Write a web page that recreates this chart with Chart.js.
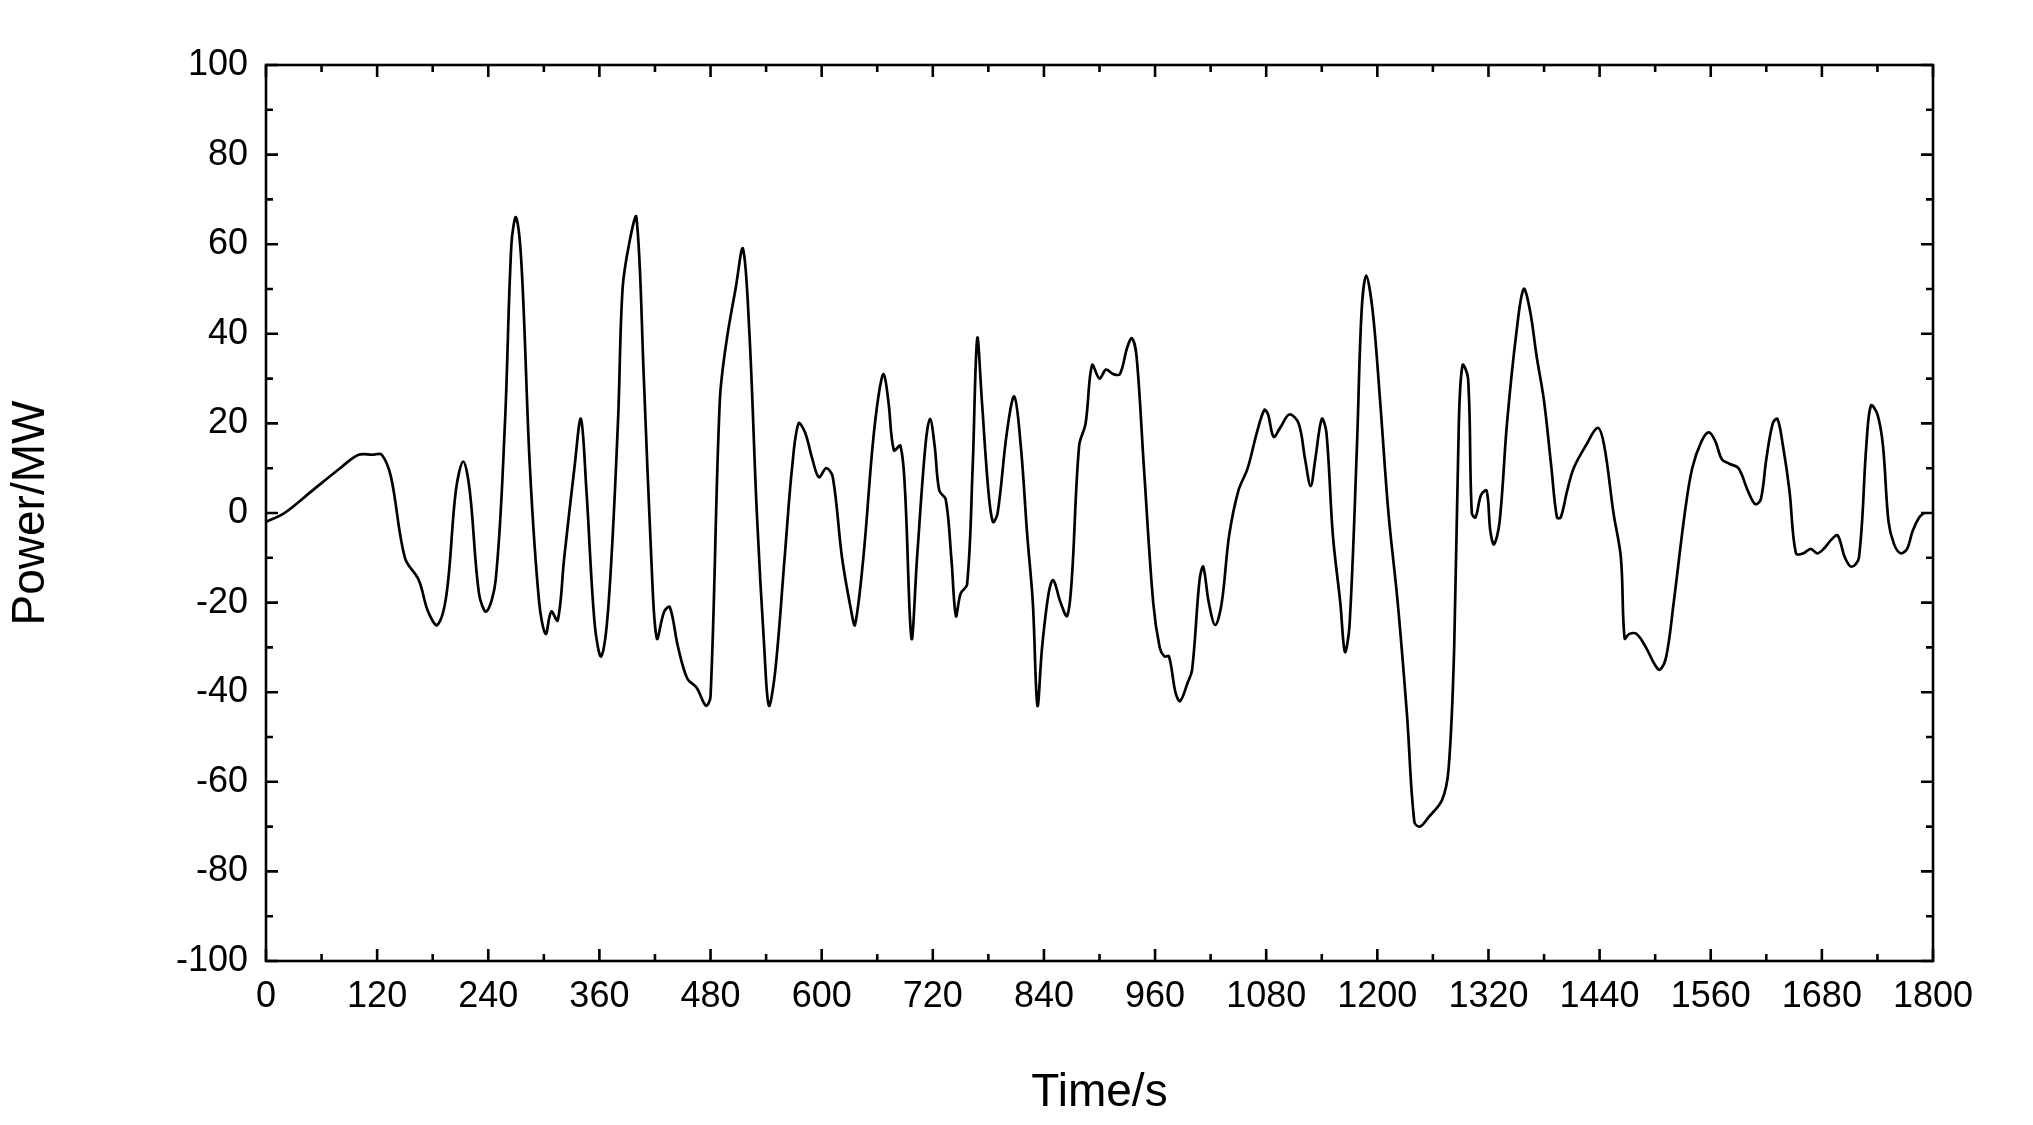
<!DOCTYPE html>
<html><head><meta charset="utf-8">
<script src="https://cdn.jsdelivr.net/npm/chart.js@4/dist/chart.umd.min.js"></script>
<style>html,body{margin:0;padding:0;background:#fff}#w{width:2033px;height:1125px}</style>
</head><body><div id="w"><canvas id="c"></canvas></div>
<script>
const times=[0,20,50,80,100,115,125,135,150,165,175,185,195,205,213,220,230,238,248,258,265,270,276,285,295,302,308,315,322,333,340,346,355,362,370,380,385,392,400,408,416,422,430,436,445,455,465,475,480,490,497,507,515,522,530,538,543,550,560,568,575,582,590,597,605,612,622,632,636,645,655,662,667,672,678,685,690,697,703,712,717,722,727,734,740,745,750,757,763,768,773,780,785,790,800,808,815,822,828,833,838,845,850,858,865,870,878,885,892,900,907,915,922,930,935,940,948,958,965,970,975,982,987,995,1000,1008,1012,1018,1025,1032,1040,1050,1060,1070,1078,1082,1088,1095,1105,1115,1122,1128,1133,1140,1145,1152,1160,1165,1170,1178,1183,1188,1195,1203,1212,1222,1232,1240,1246,1255,1270,1277,1283,1288,1292,1298,1302,1306,1312,1318,1322,1326,1332,1340,1350,1358,1365,1372,1380,1388,1394,1398,1405,1412,1425,1438,1445,1455,1463,1467,1472,1480,1490,1500,1505,1512,1520,1532,1540,1550,1558,1565,1572,1580,1590,1600,1608,1614,1620,1627,1632,1638,1645,1652,1660,1668,1675,1682,1690,1697,1705,1712,1720,1728,1733,1740,1746,1752,1758,1765,1772,1778,1785,1790];
const power=[-2,0,5,10,13,13,13,8,-10,-15,-22,-25,-18,5,11.5,5,-18,-22,-15,20,60,66,55,10,-20,-27,-22,-24,-10,10,21,5,-25,-32,-20,20,50,60,66,30,-10,-28,-22,-21,-30,-37,-39,-43,-41,25,38,50,59,40,0,-30,-43,-35,-10,10,20,18,12,8,10,8,-10,-22,-25,-10,15,27,31,25,14,15,5,-28,-10,15,21,15,5,3,-10,-23,-18,-16,10,39,25,5,-2,0,18,26,15,-5,-20,-43,-30,-18,-15,-20,-23,-15,15,20,33,30,32,31,31,37,39,35,10,-20,-30,-32,-32,-40,-42,-38,-35,-15,-12,-20,-25,-20,-5,5,10,18,23,22,17,19,22,20,12,6,12,21,18,-5,-20,-31,-25,15,45,53,45,25,0,-20,-45,-69,-70,-68,-64,-57,-30,20,33,30,0,-1,4,5,-4,-7,-2,20,40,50,45,35,25,10,-1,-1,5,10,15,19,15,0,-10,-28,-27,-27,-30,-34,-35,-32,-20,0,10,16,18,16,12,11,10,5,2,3,12,20,21,15,5,-9,-9,-8,-9,-8,-6,-5,-10,-12,-10,15,24,22,15,-2,-7,-9,-8,-4,-1,0];
const xTicks=[0,120,240,360,480,600,720,840,960,1080,1200,1320,1440,1560,1680,1800];
const yTicks=[-100,-80,-60,-40,-20,0,20,40,60,80,100];

const tickPlugin={id:'ticks',afterDraw(ch){
  const c=ch.ctx,a=ch.chartArea,xs=ch.scales.x,ys=ch.scales.y;
  c.save();c.strokeStyle='#000';c.lineWidth=2.6;
  c.strokeRect(a.left,a.top,a.right-a.left,a.bottom-a.top);
  c.beginPath();
  for(let v=0;v<=1800;v+=60){const p=xs.getPixelForValue(v),L=(v%120===0)?12:7;
    c.moveTo(p,a.bottom);c.lineTo(p,a.bottom-L);c.moveTo(p,a.top);c.lineTo(p,a.top+L);}
  for(let v=-100;v<=100;v+=10){const p=ys.getPixelForValue(v),L=(v%20===0)?12:7;
    c.moveTo(a.left,p);c.lineTo(a.left+L,p);c.moveTo(a.right,p);c.lineTo(a.right-L,p);}
  c.stroke();c.restore();}};

new Chart(document.getElementById('c'),{
  type:'line',
  data:{datasets:[{data:times.map((t,i)=>({x:t,y:power[i]})),borderColor:'#000',borderWidth:2.7,pointRadius:0,tension:0.35,fill:false}]},
  options:{responsive:true,maintainAspectRatio:false,animation:false,
    layout:{padding:{top:65,right:100,left:0,bottom:0}},
    plugins:{legend:{display:false},tooltip:{enabled:false}},
    scales:{
      x:{type:'linear',min:0,max:1800,
        afterBuildTicks(s){s.ticks=xTicks.map(v=>({value:v}));},
        afterFit(s){s.height=164;},
        grid:{display:false},border:{display:false},
        ticks:{autoSkip:false,maxRotation:0,color:'#000',padding:6,callback:v=>String(v),font:{family:'Liberation Sans, Arial',size:36}},
        title:{display:true,text:'Time/s',color:'#000',padding:{top:22},font:{family:'Liberation Sans, Arial',size:46}}},
      y:{min:-100,max:100,
        afterBuildTicks(s){s.ticks=yTicks.map(v=>({value:v}));},
        afterFit(s){s.width=266;},
        grid:{display:false},border:{display:false},
        ticks:{color:'#000',padding:10,callback:v=>String(v),font:{family:'Liberation Sans, Arial',size:36}},
        title:{display:true,text:'Power/MW',color:'#000',padding:{bottom:20},font:{family:'Liberation Sans, Arial',size:46}}}
    }},
  plugins:[tickPlugin]
});
</script></body></html>
